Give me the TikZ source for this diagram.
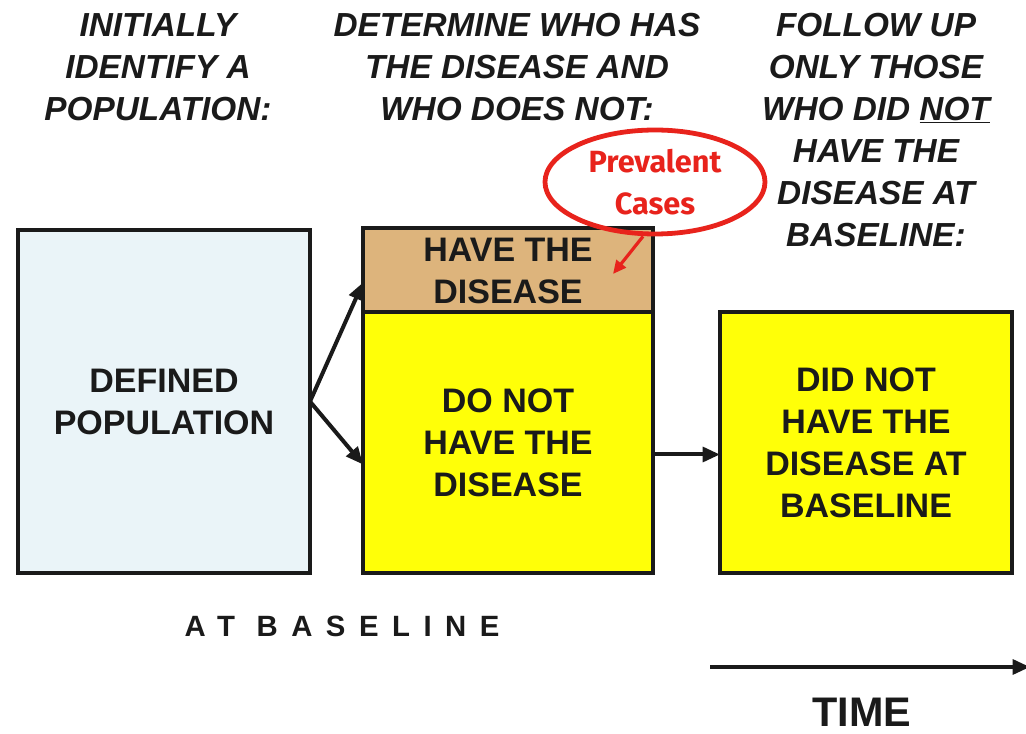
\documentclass[tikz,border=0pt]{standalone}
\usepackage{fontspec}
\setmainfont{Liberation Sans}
\newfontfamily\cmc{Fira Sans}
\usetikzlibrary{arrows.meta,shapes.geometric,calc}
\definecolor{popblue}{HTML}{EAF4F8}
\definecolor{tanbox}{HTML}{DDB47C}
\definecolor{yelbox}{HTML}{FFFF08}
\definecolor{inkred}{HTML}{E8231C}
\definecolor{ink}{HTML}{1A1A1A}
\begin{document}
\begin{tikzpicture}[x=0.75pt,y=-0.75pt,
  hdr/.style={align=center,inner sep=0pt,anchor=north,text=ink,
    font=\fontsize{25}{31.5}\selectfont\bfseries\itshape},
  boxx/.style={draw=ink,line width=3.6pt,inner sep=0pt,outer sep=0pt,align=center,
    text=ink,font=\fontsize{25.5}{31.5}\selectfont\bfseries},
  arr/.style={draw=ink,line width=3pt,-{Triangle[length=13pt,width=11pt]}},
  redarr/.style={draw=inkred,line width=2.4pt,-{Triangle[length=10pt,width=9pt]}}]
\useasboundingbox (0,0) rectangle (1026,734);
% headers
\node[hdr] (h1) at (158,13) {INITIALLY\\IDENTIFY A\\POPULATION:};
\node[hdr] (h2) at (517,13) {DETERMINE WHO HAS\\THE DISEASE AND\\WHO DOES NOT:};
\node[hdr] (h3) at (876,13) {FOLLOW UP\\ONLY THOSE\\WHO DID \underline{NOT}\\HAVE THE\\DISEASE AT\\BASELINE:};
% boxes
\node[boxx,fill=popblue,minimum width=219pt,minimum height=257.25pt] (def) at (164,401.5) {DEFINED\\POPULATION};
\node[boxx,fill=tanbox,minimum width=217.5pt,minimum height=63.75pt] (have) at (508,270.5) {HAVE THE\\DISEASE};
\node[boxx,fill=yelbox,minimum width=217.5pt,minimum height=195.75pt] (donot) at (508,442.5) {DO NOT\\HAVE THE\\DISEASE};
\node[boxx,fill=yelbox,minimum width=219pt,minimum height=195.75pt] (didnot) at (866,442.5) {DID NOT\\HAVE THE\\DISEASE AT\\BASELINE};
% connectors
\draw[arr] (def.east) -- ($(have.west)+(0,12)$);
\draw[arr] (def.east) -- ($(donot.west)+(0,22)$);
\draw[arr] ($(donot.east)+(0,12)$) -- ($(didnot.west)+(0,12)$);
% prevalent cases
\node[ellipse,draw=inkred,line width=3.6pt,minimum width=165pt,minimum height=78pt,
  inner sep=0pt,align=center,text=inkred,font=\cmc\fontsize{23}{32}\selectfont\bfseries] (prev) at (655,182) {Prevalent\\Cases};
\coordinate (ptip) at (613,274);
\draw[redarr] ($(prev.south)+(-12,0)$) -- (ptip);
% baseline label
\node[text=ink,font=\fontsize{22}{26}\selectfont\bfseries\addfontfeature{LetterSpace=46}] (atb) at (342,626) {AT BASELINE};
% time
\coordinate (t1) at (710,667);
\coordinate (t2) at (1030,667);
\draw[arr] (t1) -- (t2);
\node[text=ink,font=\fontsize{31}{36}\selectfont\bfseries] (time) at (862,712) {TIME};
\end{tikzpicture}
\end{document}
